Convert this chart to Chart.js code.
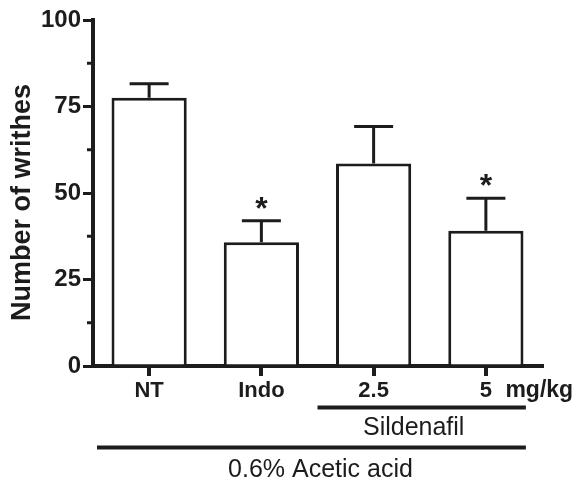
<!DOCTYPE html>
<html lang="en">
<head>
  <meta charset="UTF-8" />
  <script src="https://cdn.jsdelivr.net/npm/chart.js"></script>
  <style>
    html, body { margin: 0; padding: 0; background: #fff; }
    #wrap { width: 585px; height: 482px; }
  </style>
</head>
<body>
  <div id="wrap"><canvas id="writhesChart" width="585" height="482"></canvas></div>

  <script>
    // data
    const groups = ['NT', 'Indo', '2.5', '5'];
    const means = [77.5, 35.8, 58.5, 39.1];
    const errTops = [81.6, 42.0, 69.2, 48.5];
    const starred = [false, true, false, true];
    const yTicks = [0, 25, 50, 75, 100];
    const minorTicks = [12.5, 37.5, 62.5, 87.5];

    const ink = '#1c1c1c';
    const family = "'Liberation Sans', Arial, Helvetica, sans-serif";

    const extras = {
      id: 'extras',
      afterDatasetsDraw(chart) {
        const { ctx, scales: { x, y }, chartArea } = chart;
        const meta = chart.getDatasetMeta(0);
        ctx.save();
        ctx.strokeStyle = ink;
        ctx.fillStyle = ink;
        ctx.lineWidth = 3;
        ctx.lineCap = 'butt';

        // error bars + significance stars
        meta.data.forEach((bar, i) => {
          const top = y.getPixelForValue(means[i]);
          const cap = y.getPixelForValue(errTops[i]);
          ctx.beginPath();
          ctx.moveTo(bar.x, top);
          ctx.lineTo(bar.x, cap);
          ctx.moveTo(bar.x - 19.5, cap);
          ctx.lineTo(bar.x + 19.5, cap);
          ctx.stroke();
          if (starred[i]) {
            ctx.font = 'bold 32px ' + family;
            ctx.textAlign = 'center';
            ctx.textBaseline = 'alphabetic';
            ctx.fillText('*', bar.x, cap - 2);
          }
        });

        // minor y ticks
        minorTicks.forEach(v => {
          const py = y.getPixelForValue(v);
          ctx.beginPath();
          ctx.moveTo(chartArea.left - 6, py);
          ctx.lineTo(chartArea.left, py);
          ctx.stroke();
        });

        // y title (sits a bit below the axis centre in the original)
        ctx.save();
        ctx.translate(23, 202.5);
        ctx.rotate(-Math.PI / 2);
        ctx.font = 'bold 27px ' + family;
        ctx.textAlign = 'center';
        ctx.textBaseline = 'middle';
        ctx.fillText('Number of writhes', 0, 0);
        ctx.restore();

        // unit label next to last category
        const last = meta.data[meta.data.length - 1];
        ctx.font = 'bold 23px ' + family;
        ctx.textAlign = 'left';
        ctx.textBaseline = 'alphabetic';
        ctx.fillText('mg/kg', last.x + 19.5, 397);

        // group brackets under the axis
        const catW = (chartArea.right - chartArea.left) / groups.length;
        const sildStart = x.getPixelForValue(2) - catW / 2;
        const lineEnd = x.getPixelForValue(3) + 40;
        ctx.lineWidth = 4;
        ctx.beginPath();
        ctx.moveTo(sildStart, 407.5);
        ctx.lineTo(lineEnd, 407.5);
        ctx.moveTo(chartArea.left + 4, 447.5);
        ctx.lineTo(lineEnd, 447.5);
        ctx.stroke();

        ctx.font = '25px ' + family;
        ctx.textAlign = 'center';
        ctx.fillText('Sildenafil', (sildStart + lineEnd) / 2 - 8, 434.5);
        ctx.fillText('0.6% Acetic acid', (chartArea.left + lineEnd) / 2 + 11, 476.5);
        ctx.restore();
      }
    };

    const ctx = document.getElementById('writhesChart').getContext('2d');
    new Chart(ctx, {
      type: 'bar',
      data: {
        labels: groups,
        datasets: [{
          data: means,
          backgroundColor: '#ffffff',
          borderColor: ink,
          borderWidth: 3,
          borderSkipped: 'bottom',
          barPercentage: 0.67,
          categoryPercentage: 1.0,
        }],
      },
      options: {
        responsive: false,
        animation: false,
        devicePixelRatio: 1,
        layout: { padding: { top: 20, right: 43, left: 0, bottom: 0 } },
        plugins: {
          legend: { display: false },
          tooltip: { enabled: false },
        },
        scales: {
          x: {
            grid: { offset: false, drawOnChartArea: false, drawTicks: true, tickLength: 10, color: ink, lineWidth: 4 },
            border: { display: true, color: ink, width: 4 },
            ticks: { color: ink, font: { family, size: 22, weight: 'bold' }, padding: 2, maxRotation: 0 },
            afterFit(s) { s.height = 116; },
          },
          y: {
            min: 0,
            max: 100,
            afterBuildTicks(s) { s.ticks = yTicks.map(v => ({ value: v })); },
            grid: { drawOnChartArea: false, drawTicks: true, tickLength: 10, color: ink, lineWidth: 3 },
            border: { display: true, color: ink, width: 4 },
            ticks: { color: ink, font: { family, size: 24, weight: 'bold' }, padding: 2 },
            title: { display: false },
            afterFit(s) { s.width = 93; },
          },
        },
      },
      plugins: [extras],
    });
  </script>
</body>
</html>
